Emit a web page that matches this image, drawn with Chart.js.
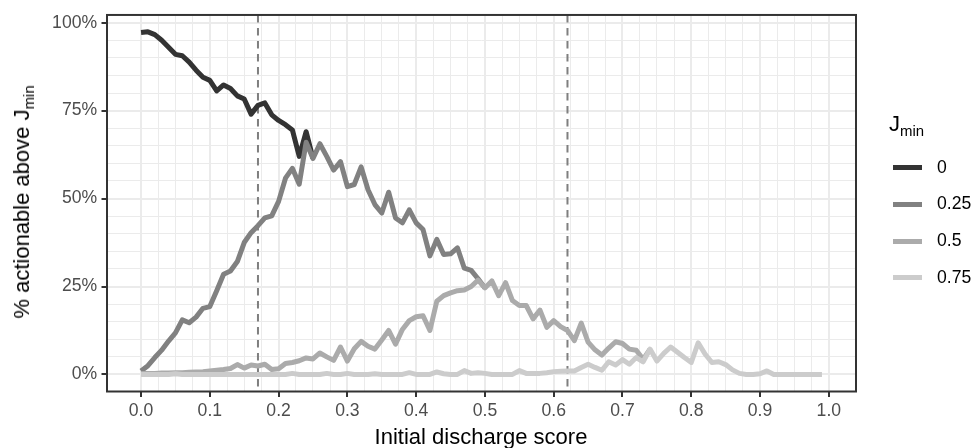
<!DOCTYPE html>
<html>
<head>
<meta charset="utf-8">
<script src="https://cdn.jsdelivr.net/npm/chart.js@4.4.1/dist/chart.umd.min.js"></script>
<style>
  html, body { margin: 0; padding: 0; background: #fff; }
  #wrap { position: relative; width: 976px; height: 448px; font-family: "Liberation Sans", Arial, Helvetica, sans-serif; }
  #chart { position: absolute; left: 0; top: 0; }
  .txt { position: absolute; white-space: nowrap; line-height: 1; color: #000; }
  .txt sub { font-size: 0.68em; vertical-align: -0.35em; line-height: 0; }
  .key { position: absolute; height: 5px; }
</style>
</head>
<body>
<div id="wrap">
  <canvas id="chart" width="976" height="448"></canvas>
  <div class="txt" id="ytitle" style="font-size:22px;left:22px;top:202px;transform:translate(-50%,-50%) rotate(-90deg);">% actionable above J<sub>min</sub></div>
  <div class="txt" id="xtitle" style="font-size:22px;left:481px;top:437px;transform:translate(-50%,-50%);">Initial discharge score</div>
  <div class="txt" id="legtitle" style="font-size:22px;left:889px;top:124px;transform:translateY(-50%);">J<sub>min</sub></div>
</div>
<script>
// nilai x (skor awal), langkah 0.01
const xs = [0.00, 0.01, 0.02, 0.03, 0.04, 0.05, 0.06, 0.07, 0.08, 0.09,
            0.10, 0.11, 0.12, 0.13, 0.14, 0.15, 0.16, 0.17, 0.18, 0.19,
            0.20, 0.21, 0.22, 0.23, 0.24, 0.25, 0.26, 0.27, 0.28, 0.29,
            0.30, 0.31, 0.32, 0.33, 0.34, 0.35, 0.36, 0.37, 0.38, 0.39,
            0.40, 0.41, 0.42, 0.43, 0.44, 0.45, 0.46, 0.47, 0.48, 0.49,
            0.50, 0.51, 0.52, 0.53, 0.54, 0.55, 0.56, 0.57, 0.58, 0.59,
            0.60, 0.61, 0.62, 0.63, 0.64, 0.65, 0.66, 0.67, 0.68, 0.69,
            0.70, 0.71, 0.72, 0.73, 0.74, 0.75, 0.76, 0.77, 0.78, 0.79,
            0.80, 0.81, 0.82, 0.83, 0.84, 0.85, 0.86, 0.87, 0.88, 0.89,
            0.90, 0.91, 0.92, 0.93, 0.94, 0.95, 0.96, 0.97, 0.98, 0.99];

// % actionable per Jmin (only the visible part; later series sit on top)
const jmin0 = [97.2, 97.4, 96.6, 95.0, 93.0, 91.0, 90.6, 88.8, 86.5, 84.5,
               83.6, 80.6, 82.3, 81.3, 79.2, 78.3, 74.0, 76.5, 77.2, 73.8,
               72.2, 71.0, 69.5, 62.0, 69.0, 61.4];
const jmin025 = [1.0, 2.5, 4.8, 6.9, 9.5, 11.8, 15.5, 14.7, 16.3, 18.8,
                 19.3, 23.8, 28.5, 29.4, 32.1, 37.5, 40.3, 42.3, 44.5, 45.1,
                 49.2, 55.8, 58.6, 54.1, 66.0, 61.4, 65.6, 62.0, 58.1, 60.5,
                 53.4, 54.0, 59.0, 52.5, 48.3, 45.9, 51.8, 44.5, 43.1, 46.8,
                 43.1, 41.2, 33.7, 38.4, 34.1, 34.3, 36.0, 30.2, 29.6, 27.2,
                 24.6];
const jmin05 = [0.3, 0.3, 0.3, 0.4, 0.4, 0.5, 0.5, 0.6, 0.7, 0.8,
                1.0, 1.2, 1.4, 1.7, 2.8, 1.8, 2.7, 2.4, 2.9, 1.4,
                1.6, 3.1, 3.4, 3.9, 4.7, 4.4, 6.1, 5.0, 4.0, 7.8,
                3.8, 7.3, 9.4, 8.0, 7.2, 9.8, 12.5, 8.6, 12.8, 15.3,
                16.4, 16.7, 12.5, 20.8, 22.4, 23.2, 23.8, 24.0, 25.0, 26.8,
                24.6, 26.6, 22.4, 26.1, 21.0, 19.6, 19.6, 15.8, 18.3, 13.4,
                15.3, 13.6, 12.5, 9.6, 14.6, 9.2, 7.0, 5.5, 7.5, 9.3,
                8.8, 7.2, 6.9, 4.3, 7.2];
const jmin075 = [0, 0, 0, 0, 0, 0.2, 0, 0, 0, 0,
                 0, 0, 0, 0, 0, 0, 0, 0, 0, 0,
                 0, 0, 0.3, 0, 0, 0, 0, 0.3, 0, 0,
                 0.3, 0, 0, 0, 0.2, 0, 0, 0, 0, 0.5,
                 0, 0, 0, 0.7, 0.2, 0, 0, 1.1, 0.3, 0.5,
                 0.3, 0, 0, 0, 0, 1.1, 0.3, 0.3, 0.3, 0.5,
                 0.8, 0.9, 1.0, 1.0, 2.0, 2.9, 2.0, 1.2, 3.6, 2.7,
                 4.2, 2.9, 4.8, 3.6, 7.2, 3.8, 6.0, 7.8, 6.3, 4.8,
                 3.4, 9.0, 5.8, 3.4, 3.6, 2.8, 1.3, 0.3, 0, 0,
                 0.2, 1.0, 0, 0, 0, 0, 0, 0, 0, 0];

const seriesNames = ['0', '0.25', '0.5', '0.75'];
const seriesValues = [jmin0, jmin025, jmin05, jmin075];
const seriesColors = ['#333333', '#818181', '#ABABAB', '#CCCCCC'];

const xTicks = [0.0, 0.1, 0.2, 0.3, 0.4, 0.5, 0.6, 0.7, 0.8, 0.9, 1.0];
const yTicks = [0, 25, 50, 75, 100];
const cutoffs = [0.17, 0.62];

// garis grid minor: x tiap 0.025, y tiap 5%
const xGrid = [];
for (let i = 0; i <= 40; i++) xGrid.push(i * 0.025);
const yGrid = [];
for (let i = 0; i <= 20; i++) yGrid.push(i * 5);

const isMajorX = v => Math.abs(v * 10 - Math.round(v * 10)) < 1e-6;
const isMajorY = v => yTicks.includes(v);

Chart.defaults.font.family = "'Liberation Sans', Arial, Helvetica, sans-serif";

const datasets = seriesValues.map((vals, k) => ({
    label: seriesNames[k],
    data: vals.map((v, i) => ({ x: xs[i], y: v })),
    borderColor: seriesColors[k],
    backgroundColor: seriesColors[k],
    borderWidth: 5,
    borderJoinStyle: 'round',
    borderCapStyle: 'butt',
    pointRadius: 0,
    tension: 0,
    fill: false,
    order: seriesNames.length - k // yang terakhir digambar paling atas
}));

// garis putus-putus + bingkai panel
const panelPlugin = {
    id: 'panel',
    beforeDatasetsDraw(chart) {
        const { ctx, chartArea, scales } = chart;
        ctx.save();
        ctx.strokeStyle = '#7F7F7F';
        ctx.lineWidth = 2;
        ctx.setLineDash([7.5, 5.5]);
        cutoffs.forEach(c => {
            const px = scales.x.getPixelForValue(c);
            ctx.beginPath();
            ctx.moveTo(px, chartArea.top);
            ctx.lineTo(px, chartArea.bottom);
            ctx.stroke();
        });
        ctx.restore();
    },
    afterDatasetsDraw(chart) {
        const { ctx, chartArea } = chart;
        ctx.save();
        ctx.strokeStyle = '#333333';
        ctx.lineWidth = 2;
        ctx.strokeRect(chartArea.left, chartArea.top, chartArea.right - chartArea.left, chartArea.bottom - chartArea.top);
        ctx.restore();
    }
};

new Chart(document.getElementById('chart'), {
    type: 'line',
    data: { datasets: datasets },
    options: {
        responsive: false,
        animation: false,
        layout: { padding: { left: 0, right: 120, top: 12, bottom: 0 } },
        plugins: { legend: { display: false }, tooltip: { enabled: false } },
        scales: {
            x: {
                type: 'linear',
                min: -0.0495,
                max: 1.0395,
                afterBuildTicks: axis => { axis.ticks = xGrid.map(v => ({ value: v })); },
                afterFit: scale => { scale.height = 56.5; },
                border: { display: false },
                grid: {
                    color: '#EBEBEB',
                    lineWidth: c => isMajorX(c.tick.value) ? 2 : 1,
                    tickLength: 5.5,
                    tickWidth: 2,
                    tickColor: c => isMajorX(c.tick.value) ? '#333333' : 'rgba(0,0,0,0)'
                },
                ticks: {
                    autoSkip: false,
                    maxRotation: 0,
                    minRotation: 0,
                    padding: 4,
                    color: '#4D4D4D',
                    font: { size: 17.6 },
                    callback: v => isMajorX(v) ? v.toFixed(1) : ''
                }
            },
            y: {
                type: 'linear',
                min: -4.85,
                max: 102.2,
                afterBuildTicks: axis => { axis.ticks = yGrid.map(v => ({ value: v })); },
                afterFit: scale => { scale.width = 107; },
                border: { display: false },
                grid: {
                    color: '#EBEBEB',
                    lineWidth: c => isMajorY(c.tick.value) ? 2 : 1,
                    tickLength: 5.5,
                    tickWidth: 2,
                    tickColor: c => isMajorY(c.tick.value) ? '#333333' : 'rgba(0,0,0,0)'
                },
                ticks: {
                    autoSkip: false,
                    padding: 4.4,
                    color: '#4D4D4D',
                    font: { size: 17.6 },
                    callback: v => isMajorY(v) ? v + '%' : ''
                }
            }
        }
    },
    plugins: [panelPlugin]
});

// legenda
const wrap = document.getElementById('wrap');
const keyY = [167.7, 204.3, 241, 277.7];
seriesNames.forEach((name, k) => {
    const key = document.createElement('div');
    key.className = 'key';
    key.style.left = '893px';
    key.style.width = '29px';
    key.style.top = (keyY[k] - 2.5) + 'px';
    key.style.background = seriesColors[k];
    wrap.appendChild(key);
    const lab = document.createElement('div');
    lab.className = 'txt';
    lab.style.fontSize = '17.6px';
    lab.style.left = '937px';
    lab.style.top = keyY[k] + 'px';
    lab.style.transform = 'translateY(-50%)';
    lab.textContent = name;
    wrap.appendChild(lab);
});
</script>
</body>
</html>
